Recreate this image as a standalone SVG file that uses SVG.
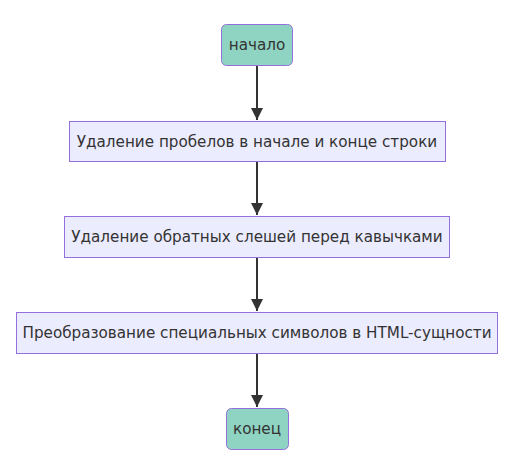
<svg xmlns="http://www.w3.org/2000/svg" width="514" height="460" viewBox="0 0 514 460">
<style>
.term{fill:#8fd3c2;stroke:#9370db;stroke-width:1}
.proc{fill:#ececff;stroke:#9370db;stroke-width:1}
.lbl{font-family:"DejaVu Sans",Verdana,sans-serif;font-size:15.2px;fill:#333;text-anchor:middle;dominant-baseline:central}
.edge{stroke:#333;stroke-width:2;fill:none}
</style>
<defs>
<marker id="arr" viewBox="0 0 10 10" refX="10" refY="5" markerWidth="6" markerHeight="6" markerUnits="strokeWidth" orient="auto">
<path d="M0,0 L10,5 L0,10 z" fill="#333"/>
</marker>
</defs>
<rect width="514" height="460" fill="#fff"/>
<g id="edges">
<line class="edge" x1="257" y1="66" x2="257" y2="120" marker-end="url(#arr)"/>
<line class="edge" x1="257" y1="162" x2="257" y2="215" marker-end="url(#arr)"/>
<line class="edge" x1="257" y1="258" x2="257" y2="311" marker-end="url(#arr)"/>
<line class="edge" x1="257" y1="354" x2="257" y2="407" marker-end="url(#arr)"/>
</g>
<g id="start">
<rect class="term" x="221.5" y="24.5" width="71" height="41" rx="5"/>
<text class="lbl" x="257" y="45">начало</text>
</g>
<g id="trim">
<rect class="proc" x="69.5" y="121.5" width="376" height="40"/>
<text class="lbl" x="257" y="141.5">Удаление пробелов в начале и конце строки</text>
</g>
<g id="unslash">
<rect class="proc" x="64.5" y="216.5" width="385" height="41"/>
<text class="lbl" x="257" y="237">Удаление обратных слешей перед кавычками</text>
</g>
<g id="html">
<rect class="proc" x="16.5" y="312.5" width="481" height="41"/>
<text class="lbl" x="257" y="333">Преобразование специальных символов в HTML-сущности</text>
</g>
<g id="end">
<rect class="term" x="226.5" y="408.5" width="62" height="41" rx="5"/>
<text class="lbl" x="257" y="429">конец</text>
</g>
</svg>
